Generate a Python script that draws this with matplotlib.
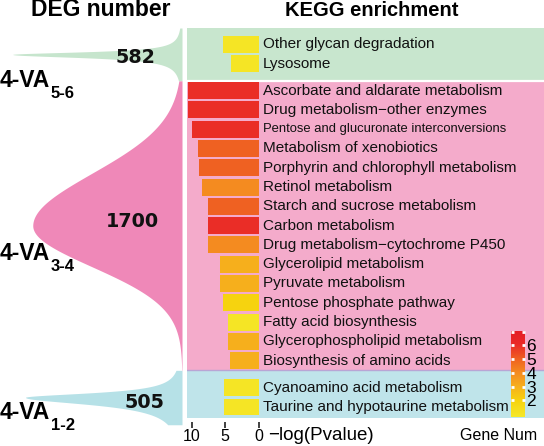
import numpy as np
import matplotlib
matplotlib.use('Agg')
import matplotlib.pyplot as plt
from matplotlib.colors import LinearSegmentedColormap, Normalize
from matplotlib.cm import ScalarMappable

plt.rcParams['font.family'] = ['Liberation Sans', 'DejaVu Sans']

# --- data ---
terms_top = ['Other glycan degradation', 'Lysosome']
pval_top = [5.3, 4.1]
genes_top = [1, 1]

terms_mid = ['Ascorbate and aldarate metabolism',
             'Drug metabolism\u2212other enzymes',
             'Pentose and glucuronate interconversions',
             'Metabolism of xenobiotics',
             'Porphyrin and chlorophyll metabolism',
             'Retinol metabolism',
             'Starch and sucrose metabolism',
             'Carbon metabolism',
             'Drug metabolism\u2212cytochrome P450',
             'Glycerolipid metabolism',
             'Pyruvate metabolism',
             'Pentose phosphate pathway',
             'Fatty acid biosynthesis',
             'Glycerophospholipid metabolism',
             'Biosynthesis of amino acids']
pval_mid = [10.6, 10.5, 10.0, 9.0, 8.9, 8.5, 7.6, 7.5, 7.5, 5.8, 5.8, 5.3, 4.5, 4.5, 4.3]
genes_mid = [6, 6, 6, 5, 5, 4, 5, 6, 4, 3, 3, 2, 1, 3, 3]

terms_bot = ['Cyanoamino acid metabolism', 'Taurine and hypotaurine metabolism']
pval_bot = [5.1, 5.1]
genes_bot = [1, 1]

deg_names = ['4-VA', '4-VA', '4-VA']
deg_subs = ['5-6', '3-4', '1-2']
deg_counts = [582, 1700, 505]

# --- colours / layout ---
band_colors = ['#c8e6ce', '#f4abcb', '#bfe4ea']
shape_colors = ['#c6e5cd', '#ef88b8', '#b6e1e7']
cmap = LinearSegmentedColormap.from_list(
    'gn', [(0.0, '#f5e829'), (0.19, '#f6d30f'), (0.35, '#f6b01c'),
           (0.52, '#f48a20'), (0.68, '#ef6022'), (0.84, '#ea2a27'), (1.0, '#e41e26')])
norm = Normalize(vmin=0.8, vmax=7.05)

gap = 0.4
y_top = np.arange(len(terms_top)) - len(terms_top) - gap
y_mid = np.arange(len(terms_mid))
y_bot = np.arange(len(terms_bot)) + len(terms_mid) + gap
ylim = (16.97, -3.24)
edges = [ylim[1], -0.5, len(terms_mid) - 0.5, ylim[0]]

W, H = 544, 446
fig = plt.figure(figsize=(W / 100, H / 100), dpi=100)

def frac(x0, y0, x1, y1):
    return [x0 / W, 1 - y1 / H, (x1 - x0) / W, (y1 - y0) / H]

# --- right panel: KEGG bars ---
ax = fig.add_axes(frac(187, 28, 544, 418))
ax.set_xlim(10.7, -42.7)
ax.set_ylim(*ylim)
for i in range(3):
    ax.axhspan(edges[i], edges[i + 1], color=band_colors[i], zorder=0, lw=0)
ax.axhline(edges[1], color='white', lw=1.6, zorder=1)
ax.axhline(edges[2], color='#b9a5d5', lw=1.0, zorder=1)

for terms, pv, gn, ys in [(terms_top, pval_top, genes_top, y_top),
                          (terms_mid, pval_mid, genes_mid, y_mid),
                          (terms_bot, pval_bot, genes_bot, y_bot)]:
    ax.barh(ys, pv, height=0.88, color=cmap(norm(np.array(gn))), zorder=2)
    for t, y in zip(terms, ys):
        fs = 9.4 if t.startswith('Pentose and') else 11
        ax.text(-0.6, y, t, ha='left', va='center', fontsize=fs, color='#111111', zorder=3)

for s in ax.spines.values():
    s.set_visible(False)
ax.spines['bottom'].set_position(('outward', 3))
ax.set_yticks([])
ax.set_xticks([10, 5, 0])
ax.set_xticklabels(['10', '5', '0'], fontsize=11.5)
ax.tick_params(axis='x', length=4, width=1.3, color='#333333', pad=1)

fig.text(268 / W, 1 - 436 / H, '\u2212log(Pvalue)', fontsize=13.5, va='center', ha='left')
fig.text(499 / W, 1 - 436 / H, 'Gene Num', fontsize=11.5, va='center', ha='center')

# --- colour bar ---
cax = fig.add_axes(frac(511, 331, 525, 417))
cb = fig.colorbar(ScalarMappable(norm=norm, cmap=cmap), cax=cax)
cb.outline.set_visible(False)
cb.set_ticks([2, 3, 4, 5, 6, 7])
cb.set_ticklabels(['2', '3', '4', '5', '6', ''])
cax.tick_params(direction='in', length=2.5, width=2, color='white',
                left=True, right=True, labelleft=False, labelright=True,
                labelsize=12.5, pad=1)

# --- left panel: DEG numbers ---
axl = fig.add_axes(frac(0, 28, 182, 418))
axl.set_xlim(0, 1)
axl.set_ylim(*ylim)
axl.axis('off')

# peak width (fraction of panel), spread above / below, kind
shape_par = [(0.93, 0.16, 0.2, 'c'), (0.82, 2.7, 2.12, 'g'), (0.86, 0.28, 0.45, 'c')]
centers = [(edges[i] + edges[i + 1]) / 2 for i in range(3)]
centers[2] = 15.9
for i in range(3):
    peak, s_up, s_dn, kind = shape_par[i]
    lo, hi = edges[i], edges[i + 1] + (0.35 if i == 2 else 0)
    yy = np.linspace(lo, hi, 600)
    d = yy - centers[i]
    s = np.where(d < 0, s_up, s_dn)
    if kind == 'g':
        w = peak * np.exp(-0.5 * (d / s) ** 2)
    else:
        w = peak / (1 + (d / s) ** 2)
    axl.fill_betweenx(yy, 1 - w, 1, color=shape_colors[i], lw=0, clip_on=False)

label_y = [-0.18, 8.78, 17.02]
count_pos = [(0.746, -1.41), (0.728, 7.06), (0.792, 16.44)]
for i in range(3):
    t = axl.text(0.0, label_y[i], deg_names[i], fontsize=16.5, fontweight='bold',
                 ha='left', va='baseline')
    axl.annotate(deg_subs[i], xy=(1, 0), xycoords=t, xytext=(0.5, -4.4),
                 textcoords='offset points', fontsize=12, fontweight='bold',
                 ha='left', va='baseline')
    axl.text(count_pos[i][0], count_pos[i][1], str(deg_counts[i]), fontsize=13.8,
             fontweight='bold', family='DejaVu Sans', ha='center', va='baseline',
             color='#111111')

fig.text(101 / W, 1 - 10 / H, 'DEG number', fontsize=16.5, fontweight='bold',
         ha='center', va='center')
fig.text(372 / W, 1 - 10 / H, 'KEGG enrichment', fontsize=14.5, fontweight='bold',
         ha='center', va='center')

fig.savefig('out.png', dpi=100)
plt.close(fig)
